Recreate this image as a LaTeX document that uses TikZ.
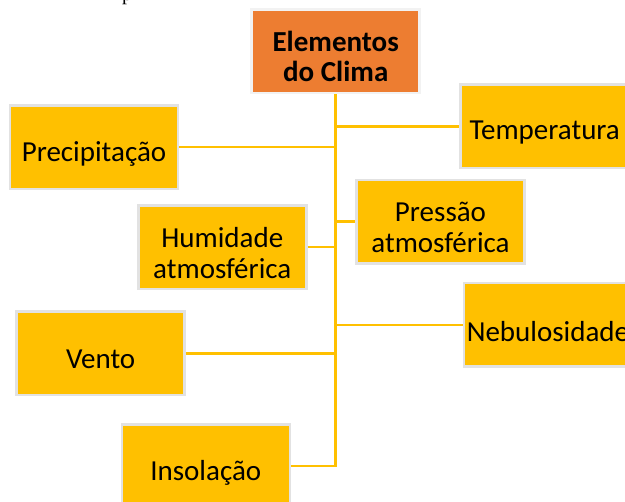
\documentclass[tikz,border=0pt]{standalone}
\usepackage{fontspec}
\setmainfont{Carlito}
\newfontfamily\serifpart{Liberation Serif}
\definecolor{boxyellow}{HTML}{FFC000}
\definecolor{boxorange}{HTML}{ED7D31}
\definecolor{boxedge}{HTML}{E2E2E2}
\definecolor{topedge}{HTML}{F2F2F2}
\tikzset{
  elem/.style={draw=boxedge, line width=2.5pt, fill=boxyellow, minimum width=168pt, minimum height=83.5pt,
    inner sep=0pt},
  topbox/.style={elem, fill=boxorange, draw=topedge},
  lbl/.style={inner sep=0pt, align=center, text=black, font=\fontsize{29}{31}\selectfont, yshift=-5.5pt},
  onelbl/.style={lbl, yshift=-1pt},
  toplbl/.style={lbl, font=\bfseries\fontsize{29}{30}\selectfont},
  link/.style={draw=boxyellow, line width=2.5pt}
}
\begin{document}
\begin{tikzpicture}[x=1pt,y=-1pt]
\useasboundingbox (0,0) rectangle (625,502);
\node[font=\serifpart\fontsize{20}{20}\selectfont, anchor=base] (frag) at (127,0.5) {p};
\node[topbox] (top) at (335.7,51.2) {};
\node[elem] (prec) at (94,147.2) {};
\node[elem] (temp) at (544.7,126.5) {};
\node[elem] (pres) at (440.5,221.7) {};
\node[elem] (humi) at (222.3,247.2) {};
\node[elem] (nebu) at (548,325) {};
\node[elem] (vent) at (100.7,353.3) {};
\node[elem] (inso) at (205.8,466.2) {};
\node[toplbl] (topt) at (top.center) {Elementos\\do Clima};
\node[onelbl] (prect) at (prec.center) {Precipitação};
\node[onelbl] (tempt) at (temp.center) {Temperatura};
\node[lbl] (prest) at (pres.center) {Pressão\\atmosférica};
\node[lbl] (humit) at (humi.center) {Humidade\\atmosférica};
\node[onelbl] (nebut) at (nebu.center) {Nebulosidade};
\node[onelbl] (ventt) at (vent.center) {Vento};
\node[onelbl] (insot) at (inso.center) {Insolação};
\draw[link] (top.south) -- (top.south |- inso.east) -- (inso.east);
\draw[link] (top.south |- temp.west) -- (temp.west);
\draw[link] (prec.east) -- (prec.east -| top.south);
\draw[link] (top.south |- pres.west) -- (pres.west);
\draw[link] (humi.east) -- (humi.east -| top.south);
\draw[link] (top.south |- nebu.west) -- (nebu.west);
\draw[link] (vent.east) -- (vent.east -| top.south);
\end{tikzpicture}
\end{document}
